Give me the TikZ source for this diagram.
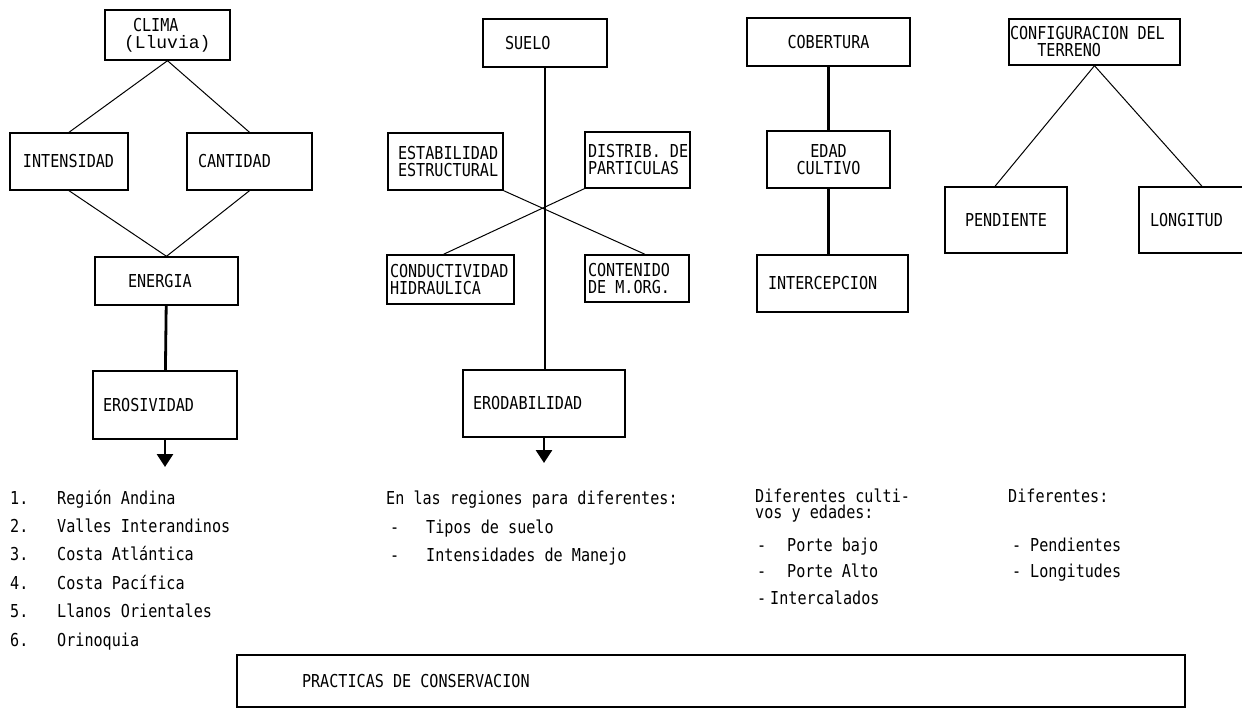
\documentclass[tikz,border=0pt]{standalone}
\usepackage{fontspec}
\newfontfamily\tw[FakeStretch=0.85]{DejaVu Sans Mono}
\newfontfamily\cour{Liberation Mono}
\newcommand\maquina{\tw\fontsize{17.8}{17}\selectfont}
\newcommand\espacio{\spaceskip 9.1pt\xspaceskip 9.1pt\relax}
\usetikzlibrary{arrows.meta}

\begin{document}
\begin{tikzpicture}[x=1pt,y=-1pt,
    caja/.style={draw, line width=1.4pt, inner ysep=0pt, font=\maquina, execute at begin node=\espacio},
    txt/.style={anchor=base west, inner sep=0pt, font=\maquina, execute at begin node=\espacio},
    linea/.style={line width=1pt},
    gruesa/.style={line width=2.8pt},
    flecha/.style={line width=2.8pt, -{Triangle[width=16pt,length=13pt]}}]
		\useasboundingbox (0,0) rectangle (1242,709);

		\node[caja, text width=87pt, inner xsep=19pt, minimum height=50pt, align=left] (clima) at (167.5,35) {\hspace*{9pt}CLIMA\\{\cour\fontsize{18}{17}\selectfont(Lluvia)}};
		\node[caja, text width=92pt, inner xsep=13pt, minimum height=57pt, align=left] (intens) at (69,161.5) {INTENSIDAD};
		\node[caja, text width=103pt, inner xsep=11pt, minimum height=57pt, align=left] (cantid) at (249.5,161.5) {CANTIDAD};
		\node[caja, text width=77pt, inner xsep=33pt, minimum height=48pt, align=left] (energia) at (166.5,281) {ENERGIA};
		\node[caja, text width=124pt, inner xsep=10pt, minimum height=68pt, align=left] (erosiv) at (165,405) {EROSIVIDAD};

		\node[caja, text width=80pt, inner xsep=22pt, minimum height=48pt, align=left] (suelo) at (545,43) {SUELO};
		\node[caja, text width=95pt, inner xsep=10pt, minimum height=57pt, align=left] (estab) at (445.5,161.5) {ESTABILIDAD\\ESTRUCTURAL};
		\node[caja, text width=99pt, inner xsep=3pt, minimum height=56pt, align=left] (distrib) at (637.5,160) {DISTRIB.~DE\\PARTICULAS};
		\node[caja, text width=121pt, inner xsep=3pt, minimum height=49pt, align=left] (conduct) at (450.5,279.5) {CONDUCTIVIDAD\\HIDRAULICA};
		\node[caja, text width=98pt, inner xsep=3pt, minimum height=47pt, align=left] (conten) at (637,278.5) {CONTENIDO\\DE~M.ORG.};
		\node[caja, text width=142pt, inner xsep=10pt, minimum height=67pt, align=left] (erodab) at (544,403.5) {ERODABILIDAD};

		\node[caja, minimum width=163pt, minimum height=48pt, align=center] (cobert) at (828.5,42) {COBERTURA};
		\node[caja, minimum width=123pt, minimum height=57pt, align=center] (edad) at (828.5,159.5) {EDAD\\CULTIVO};
		\node[caja, text width=129pt, inner xsep=11pt, minimum height=57pt, align=left] (intercep) at (832.5,283.5) {INTERCEPCION};

		\node[caja, text width=169pt, inner xsep=1pt, minimum height=46pt, align=left] (config) at (1094.5,42) {CONFIGURACION~DEL\\\phantom{CON}TERRENO};
		\node[caja, minimum width=122pt, minimum height=66pt, align=center] (pend) at (1006,220) {PENDIENTE};
		\node[caja, text width=82pt, inner xsep=11pt, minimum height=66pt, align=left] (longit) at (1191,220) {LONGITUD};

		\draw[linea] (clima.south) -- (intens.north);
		\draw[linea] (clima.south) -- (cantid.north);
		\draw[linea] (intens.south) -- (energia.north);
		\draw[linea] (cantid.south) -- (energia.north);
		\draw[gruesa] (energia) -- (erosiv);
		\coordinate (finA) at (165,467);
		\draw[flecha] (erosiv.south) -- (finA);

		\draw[line width=1.8pt] (suelo.south) -- (suelo.south |- erodab.north);
		\draw[linea] (estab.south east) -- ([xshift=8pt]conten.north);
		\draw[linea] (distrib.south west) -- ([xshift=-7pt]conduct.north);
		\coordinate (finB) at (544,463);
		\draw[flecha] (erodab.south) -- (finB);

		\draw[line width=2.2pt] (cobert) -- (edad);
		\draw[gruesa] (edad.south) -- (edad.south |- intercep.north);

		\draw[linea] (config.south) -- ([xshift=-11pt]pend.north);
		\draw[linea] (config.south) -- ([xshift=11pt]longit.north);

		\foreach \num/\reg [count=\i from 0] in {1/Región Andina, 2/Valles Interandinos, 3/Costa Atlántica, 4/Costa Pacífica, 5/Llanos Orientales, 6/Orinoquia} {
			\node[txt] (num\num) at (10,{504+28.4*\i}) {\num.};
			\node[txt] (reg\num) at (57,{504+28.4*\i}) {\reg};
		}

		\node[txt] (regiones) at (386,504) {En las regiones para diferentes:};
		\node[txt] (guionA) at (390,533) {-};
		\node[txt] (tipos) at (426,533) {Tipos de suelo};
		\node[txt] (guionB) at (390,561) {-};
		\node[txt] (manejo) at (426,561) {Intensidades de Manejo};

		\node[txt] (cultivosA) at (755,502) {Diferentes culti-};
		\node[txt] (cultivosB) at (755,518) {vos y edades:};
		\node[txt] (guionC) at (757,551) {-};
		\node[txt] (bajo) at (787,551) {Porte bajo};
		\node[txt] (guionD) at (757,577) {-};
		\node[txt] (alto) at (787,577) {Porte Alto};
		\node[txt] (guionE) at (757,604) {-};
		\node[txt] (intercal) at (770,604) {Intercalados};

		\node[txt] (diferentes) at (1008,502) {Diferentes:};
		\node[txt] (guionF) at (1012,551) {-};
		\node[txt] (pendtes) at (1030,551) {Pendientes};
		\node[txt] (guionG) at (1012,577) {-};
		\node[txt] (longtes) at (1030,577) {Longitudes};

		\node[caja, text width=818pt, inner xsep=65pt, minimum height=52pt, align=left] (practicas) at (711,681) {PRACTICAS DE CONSERVACION};
	\end{tikzpicture}
\end{document}
